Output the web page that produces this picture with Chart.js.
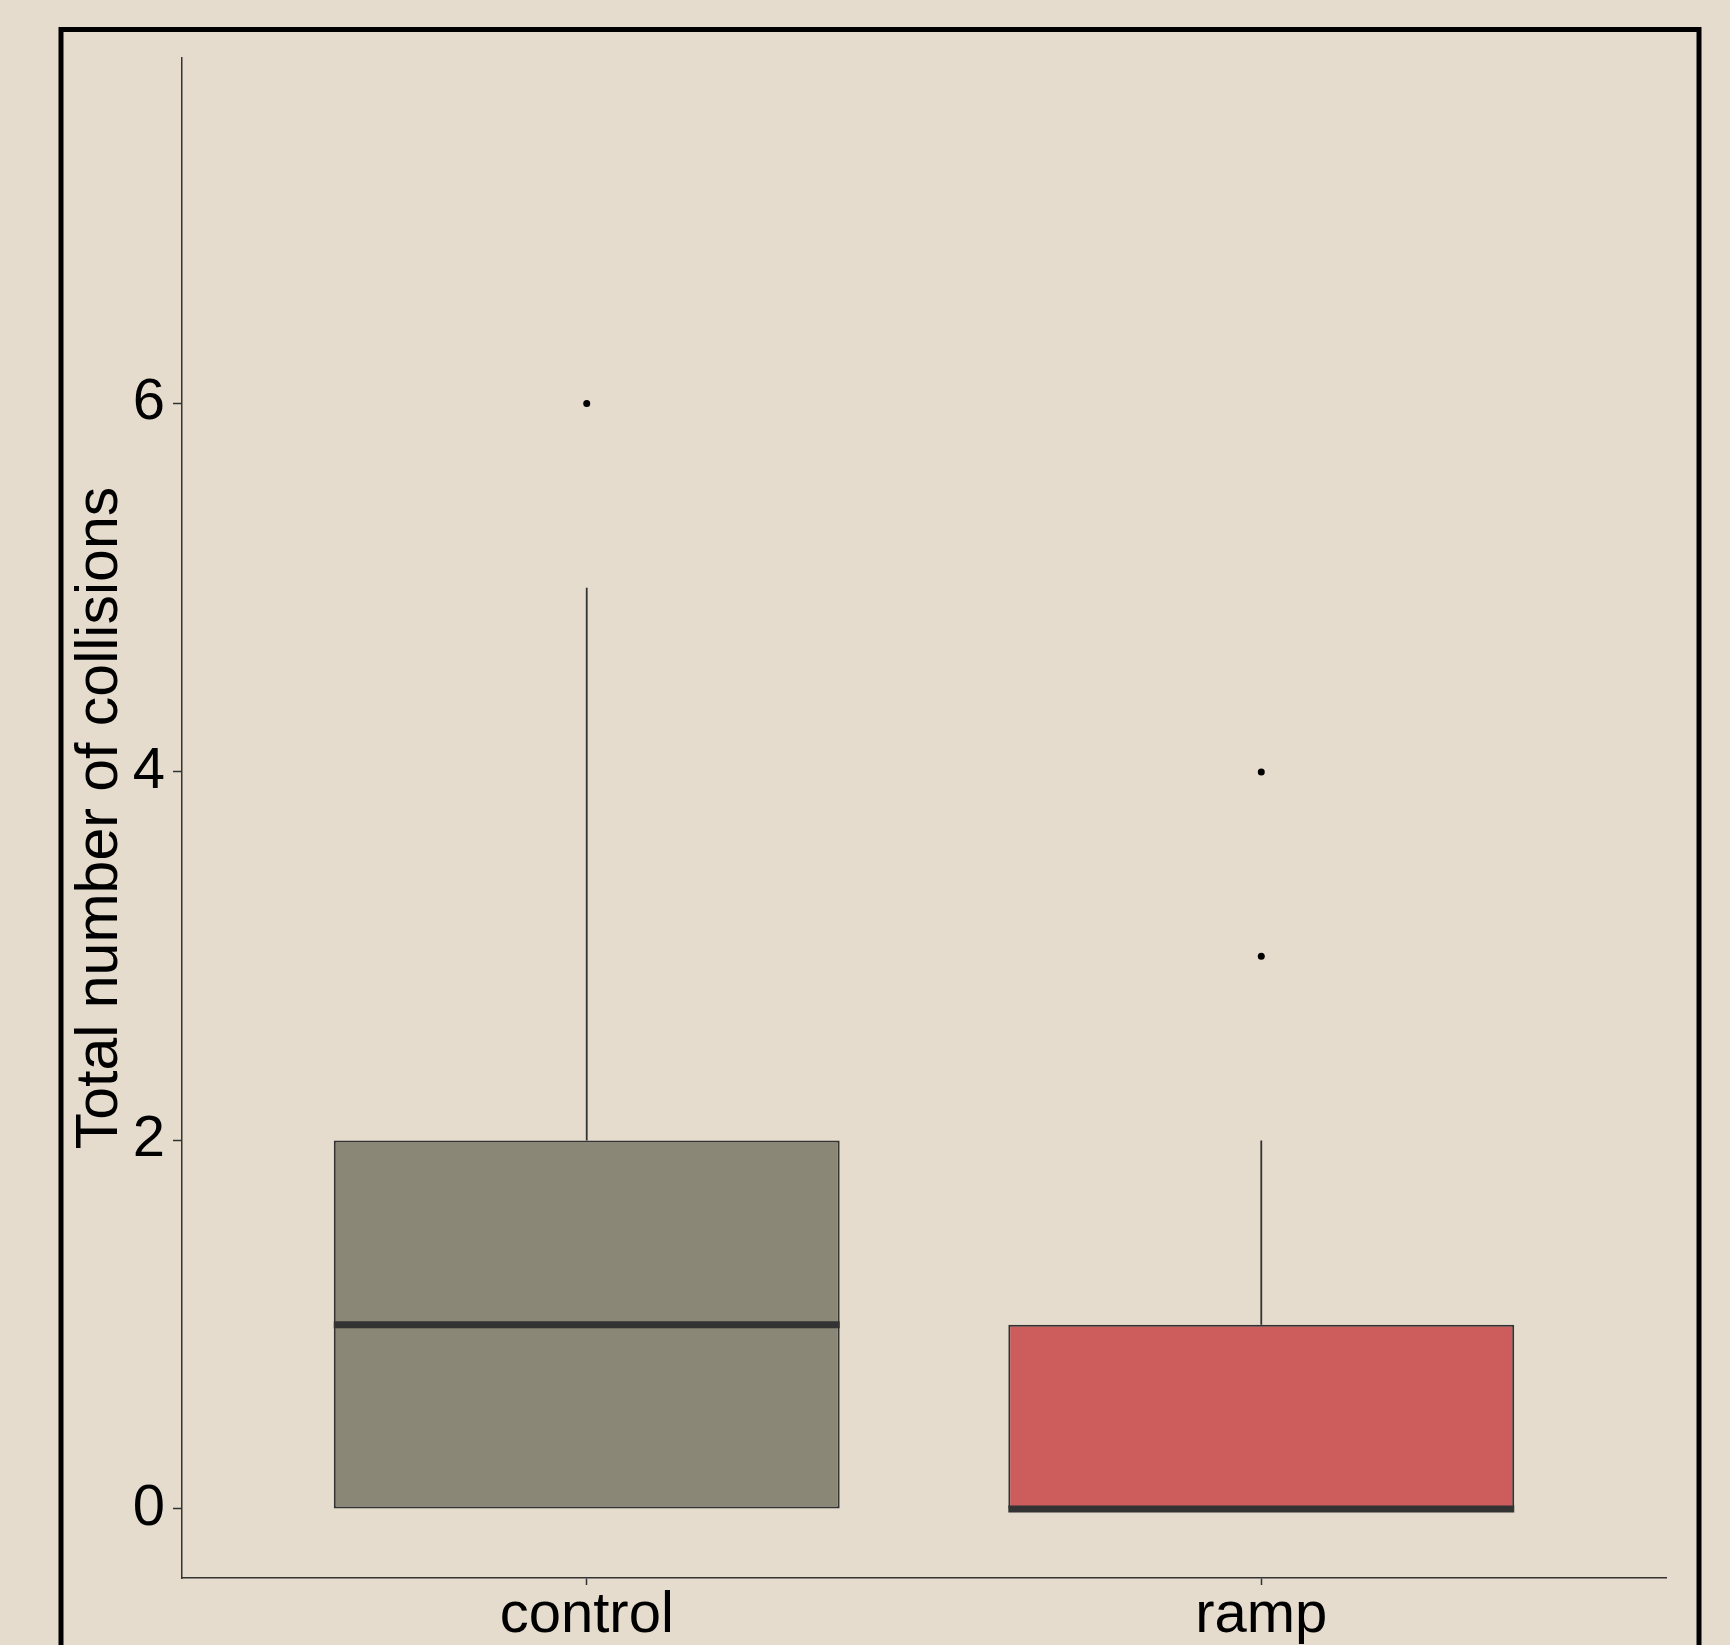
<!DOCTYPE html>
<html>
<head>
<meta charset="utf-8">
<title>Total number of collisions</title>
<script src="https://cdn.jsdelivr.net/npm/chart.js@4.4.1/dist/chart.umd.min.js"></script>
<style>
  html, body { margin: 0; padding: 0; background: #e5dccd; }
  #wrap { width: 1730px; height: 1645px; }
</style>
</head>
<body>
<div id="wrap"><canvas id="collisionChart" width="1730" height="1645"></canvas></div>
<script>
// box statistics for each group
const groups = ['control', 'ramp'];
const lowerQuartile = [0, 0];
const medianValue = [1, 0];
const upperQuartile = [2, 1];
const whiskerLow = [0, 0];
const whiskerHigh = [5, 2];
const outlierValues = [[6], [3, 4]];
const yTickValues = [0, 2, 4, 6];
const yLimits = [0, 7.5];

const boxColors = ['#8a8776', '#cd5c5c'];
const inkColor = '#333333';
const fontFamily = "'Liberation Sans', Arial, sans-serif";
const boxWidth = 0.75;

// groups sit at 1, 2, ... on a numeric x axis (ggplot-like spacing)
const xPos = groups.map((g, i) => i + 1);
const yPad = (yLimits[1] - yLimits[0]) * 0.05;

// interquartile boxes as floating bars
const boxData = xPos.map((x, i) => ({ x: x, y: [lowerQuartile[i], upperQuartile[i]] }));

// whiskers: vertical segments split by null gaps
const whiskerData = [];
xPos.forEach((x, i) => {
    whiskerData.push({ x: x, y: upperQuartile[i] }, { x: x, y: whiskerHigh[i] }, { x: x, y: null });
    if (whiskerLow[i] < lowerQuartile[i]) {
        whiskerData.push({ x: x, y: whiskerLow[i] }, { x: x, y: lowerQuartile[i] }, { x: x, y: null });
    }
});

// median bars across the full box width
const medianData = [];
xPos.forEach((x, i) => {
    medianData.push({ x: x - boxWidth / 2, y: medianValue[i] }, { x: x + boxWidth / 2, y: medianValue[i] }, { x: x, y: null });
});

const outlierData = [];
xPos.forEach((x, i) => outlierValues[i].forEach(v => outlierData.push({ x: x, y: v })));

// paper background and the heavy outer frame
const backdrop = {
    id: 'backdrop',
    beforeDraw(chart) {
        const c = chart.ctx;
        c.save();
        c.fillStyle = '#e5dccd';
        c.fillRect(0, 0, chart.width, chart.height);
        c.strokeStyle = '#000';
        c.lineWidth = 5;
        c.strokeRect(61, 29.5, chart.width - 92, chart.height + 40);
        c.restore();
    }
};

const ctx = document.getElementById('collisionChart').getContext('2d');
new Chart(ctx, {
    type: 'bar',
    data: {
        datasets: [
            {
                type: 'scatter',
                data: outlierData,
                pointRadius: 3.5,
                pointBackgroundColor: '#000',
                pointBorderWidth: 0,
                order: 0
            },
            {
                type: 'line',
                data: medianData,
                borderColor: inkColor,
                borderWidth: 7,
                borderCapStyle: 'butt',
                pointRadius: 0,
                spanGaps: false,
                order: 1
            },
            {
                type: 'line',
                data: whiskerData,
                borderColor: inkColor,
                borderWidth: 1.8,
                pointRadius: 0,
                spanGaps: false,
                order: 2
            },
            {
                type: 'bar',
                data: boxData,
                backgroundColor: boxColors,
                borderColor: inkColor,
                borderWidth: 2,
                borderSkipped: false,
                barPercentage: boxWidth,
                categoryPercentage: 1,
                order: 3
            }
        ]
    },
    options: {
        responsive: false,
        animation: false,
        layout: { padding: { top: 58, right: 64, bottom: 0, left: 0 } },
        plugins: {
            legend: { display: false },
            tooltip: { enabled: false }
        },
        scales: {
            x: {
                type: 'linear',
                min: 1 - 0.6,
                max: groups.length + 0.6,
                offset: false,
                afterBuildTicks: s => { s.ticks = xPos.map(v => ({ value: v })); },
                afterFit: s => { s.height = 67; },
                grid: {
                    display: true,
                    offset: false,
                    drawOnChartArea: false,
                    drawTicks: true,
                    tickLength: 7,
                    tickColor: inkColor,
                    tickWidth: 1.5
                },
                border: { display: true, color: inkColor, width: 1.5 },
                ticks: {
                    color: '#000',
                    font: { family: fontFamily, size: 58, lineHeight: 1 },
                    padding: 2,
                    maxRotation: 0,
                    autoSkip: false,
                    callback: v => groups[v - 1]
                }
            },
            y: {
                type: 'linear',
                min: yLimits[0] - yPad,
                max: yLimits[1] + yPad,
                afterBuildTicks: s => { s.ticks = yTickValues.map(v => ({ value: v })); },
                afterFit: s => { s.width = 182; },
                grid: {
                    display: true,
                    drawOnChartArea: false,
                    drawTicks: true,
                    tickLength: 9,
                    tickColor: inkColor,
                    tickWidth: 1.5
                },
                border: { display: true, color: inkColor, width: 1.5 },
                ticks: {
                    color: '#000',
                    font: { family: fontFamily, size: 58, lineHeight: 1 },
                    padding: 8
                },
                title: {
                    display: true,
                    text: 'Total number of collisions',
                    color: '#000',
                    font: { family: fontFamily, size: 59, lineHeight: 1 },
                    padding: { top: 71, bottom: 0 }
                }
            }
        }
    },
    plugins: [backdrop]
});
</script>
</body>
</html>
